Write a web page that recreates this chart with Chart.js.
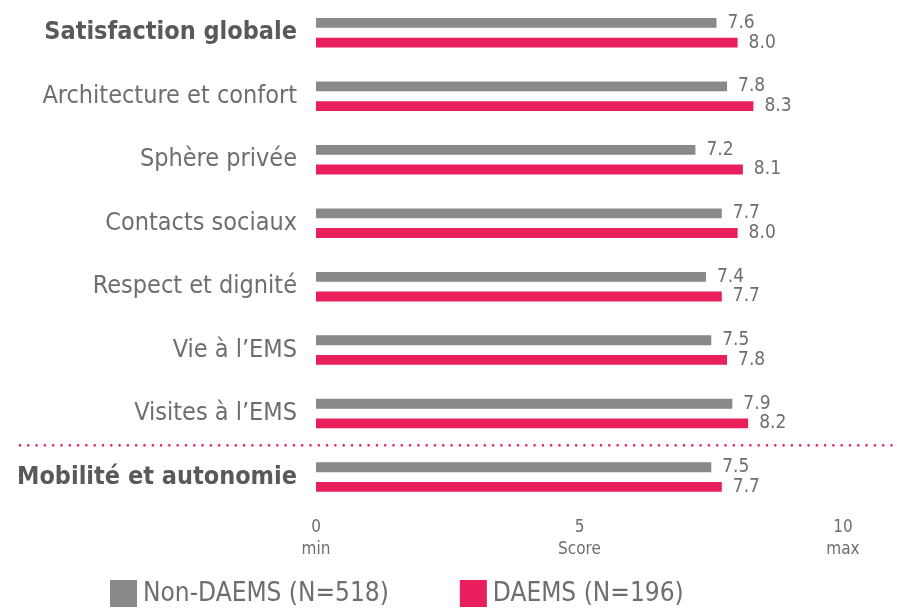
<!DOCTYPE html>
<html>
<head>
<meta charset="utf-8">
<script src="https://cdn.jsdelivr.net/npm/chart.js@4.4.1/dist/chart.umd.min.js"></script>
<style>
  html, body { margin: 0; padding: 0; background: #ffffff; }
  #wrap { width: 897px; height: 610px; position: relative; }
</style>
</head>
<body>
<div id="wrap"><canvas id="chart"></canvas></div>
<script>
// ---- data ----
const categories = [
  'Satisfaction globale',
  'Architecture et confort',
  'Sphère privée',
  'Contacts sociaux',
  'Respect et dignité',
  'Vie à l’EMS',
  'Visites à l’EMS',
  'Mobilité et autonomie'
];
const nonDaemsScores = [7.6, 7.8, 7.2, 7.7, 7.4, 7.5, 7.9, 7.5];
const daemsScores    = [8.0, 8.3, 8.1, 8.0, 7.7, 7.8, 8.2, 7.7];
const seriesNames = ['Non-DAEMS (N=518)', 'DAEMS (N=196)'];
const xTickValues = [0, 5, 10];
const xTickNames  = ['min', 'Score', 'max'];
const boldCategories = ['Satisfaction globale', 'Mobilité et autonomie'];
const separatorAfter = 'Visites à l’EMS';

// ---- styles ----
const FONT = "'Liberation Sans Narrow', 'DejaVu Sans Condensed', 'Roboto Condensed', 'Liberation Sans', sans-serif";
const GRAY = '#88898b';
const PINK = '#e91e5c';
const TEXT = '#6d6e70';
const DARK = '#58595b';

const valueLabels = {
  id: 'valueLabels',
  afterDatasetsDraw(chart) {
    const ctx = chart.ctx;
    ctx.save();
    ctx.font = '19px ' + FONT;
    ctx.fillStyle = TEXT;
    ctx.textAlign = 'left';
    ctx.textBaseline = 'middle';
    chart.data.datasets.forEach((ds, di) => {
      const meta = chart.getDatasetMeta(di);
      meta.data.forEach((bar, i) => {
        ctx.fillText(ds.data[i].toFixed(1), bar.x + 11, bar.y);
      });
    });
    ctx.restore();
  }
};

const separator = {
  id: 'separator',
  afterDatasetsDraw(chart) {
    const y = chart.scales.y;
    const idx = categories.indexOf(separatorAfter);
    const yy = (y.getPixelForValue(idx) + y.getPixelForValue(idx + 1)) / 2;
    const ctx = chart.ctx;
    ctx.save();
    ctx.strokeStyle = PINK;
    ctx.lineWidth = 2.6;
    ctx.lineCap = 'round';
    ctx.setLineDash([0, 8.3]);
    ctx.beginPath();
    ctx.moveTo(20, yy);
    ctx.lineTo(chart.width, yy);
    ctx.stroke();
    ctx.restore();
  }
};

const bottomLegend = {
  id: 'bottomLegend',
  afterDraw(chart) {
    const ctx = chart.ctx;
    ctx.save();
    ctx.font = '26px ' + FONT;
    ctx.textBaseline = 'middle';
    ctx.textAlign = 'left';
    const box = 27;
    const cy = 593.5;
    let x = 110;
    chart.data.datasets.forEach((ds) => {
      ctx.fillStyle = ds.backgroundColor;
      ctx.fillRect(x, cy - box / 2, box, box);
      ctx.fillStyle = TEXT;
      ctx.fillText(ds.label, x + box + 6, cy + 1);
      x += box + 6 + ctx.measureText(ds.label).width + 71;
    });
    ctx.restore();
  }
};

new Chart(document.getElementById('chart'), {
  type: 'bar',
  data: {
    labels: categories,
    datasets: [
      { label: seriesNames[0], data: nonDaemsScores, backgroundColor: GRAY },
      { label: seriesNames[1], data: daemsScores, backgroundColor: PINK }
    ]
  },
  options: {
    indexAxis: 'y',
    responsive: true,
    maintainAspectRatio: false,
    animation: false,
    categoryPercentage: 0.62,
    barPercentage: 0.5,
    layout: { padding: { top: 1, right: 54, bottom: 41, left: 0 } },
    plugins: {
      legend: { display: false },
      tooltip: { enabled: false }
    },
    scales: {
      x: {
        type: 'linear',
        min: 0,
        max: 10,
        afterBuildTicks: (s) => { s.ticks = xTickValues.map(v => ({ value: v })); },
        grid: { display: false, drawTicks: false },
        border: { display: false },
        ticks: {
          padding: 8,
          color: TEXT,
          font: { family: FONT, size: 17, lineHeight: 1.3 },
          callback: (v) => [String(v), xTickNames[xTickValues.indexOf(v)]]
        }
      },
      y: {
        type: 'category',
        grid: { display: false, drawTicks: false },
        border: { display: false },
        afterFit: (s) => { s.width = 316; s.paddingTop = 0; s.paddingBottom = 0; },
        ticks: {
          padding: 19,
          color: (c) => boldCategories.includes(categories[c.index]) ? DARK : TEXT,
          font: (c) => ({
            family: FONT,
            size: 25,
            weight: boldCategories.includes(categories[c.index]) ? 'bold' : 'normal'
          })
        }
      }
    }
  },
  plugins: [valueLabels, separator, bottomLegend]
});
</script>
</body>
</html>
